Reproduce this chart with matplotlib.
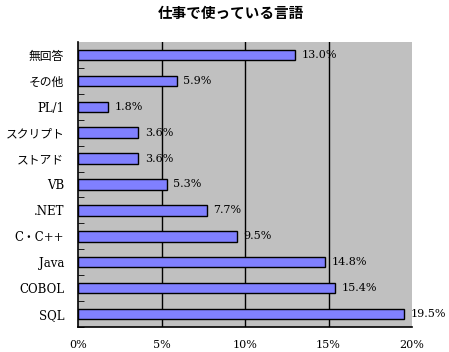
import matplotlib
matplotlib.use("Agg")
import matplotlib.pyplot as plt
import numpy as np

categories = ["SQL", "COBOL", "Java", "C・C++", ".NET", "VB", "ストアド", "スクリプト", "PL/1", "その他", "無回答"]
values = [19.5, 15.4, 14.8, 9.5, 7.7, 5.3, 3.6, 3.6, 1.8, 5.9, 13.0]
xticks = [0, 5, 10, 15, 20]
xticklabels = ["0%", "5%", "10%", "15%", "20%"]
title = "仕事で使っている言語"

fam = ["DejaVu Serif", "Noto Sans CJK JP"]
plt.rcParams["font.family"] = fam

fig = plt.figure(figsize=(4.49, 3.52), dpi=100)
ax = fig.add_axes([78/449, 25/352, 334/449, 285/352])
ax.set_facecolor("#C0C0C0")
y = np.arange(len(categories))
ax.barh(y, values, height=0.4, color="#8080FF", edgecolor="black", linewidth=1, zorder=3)
for yi, v in zip(y, values):
    ax.text(v + 0.4, yi, f"{v:.1f}%", va="center", ha="left", fontsize=8, zorder=4)
ax.set_xlim(0, 20)
ax.set_ylim(-0.5, len(categories) - 0.5)
ax.set_xticks(xticks)
ax.set_xticklabels(xticklabels, fontsize=8)
ax.tick_params(axis="x", length=0, pad=9)
ax.set_yticks(y)
ax.set_yticklabels(categories, fontsize=8.5)
ax.tick_params(axis="y", which="major", length=0, pad=10)
ax.set_yticks(np.arange(len(categories)) - 0.5, minor=True)
ax.tick_params(axis="y", which="minor", direction="in", length=4, color="black")
for xv in xticks[1:-1]:
    ax.axvline(xv, color="black", linewidth=1, zorder=1)
for s in ["top", "right"]:
    ax.spines[s].set_visible(False)
ax.spines["left"].set_linewidth(1.2)
ax.spines["bottom"].set_linewidth(1.2)
fig.text(0.515, 1 - 13/352, title, ha="center", va="center", fontsize=10.5, fontweight="bold",
         family=["Noto Sans CJK JP"])
fig.savefig("out.png", dpi=100, facecolor="white")
